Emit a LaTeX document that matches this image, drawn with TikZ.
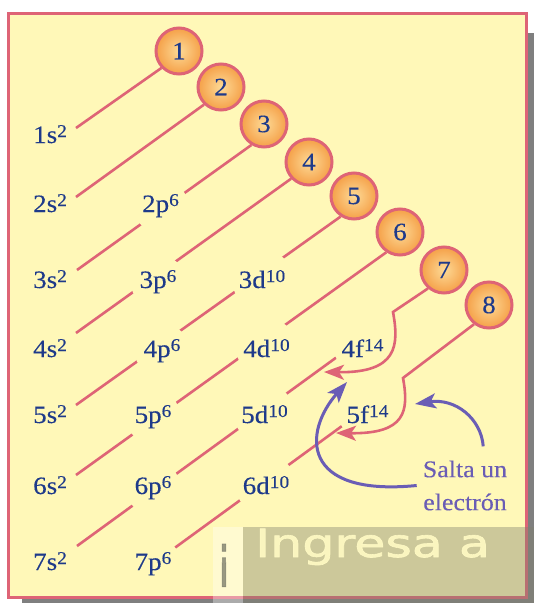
\documentclass[tikz,border=0pt]{standalone}
\usepackage{fontspec}
\setmainfont{Liberation Serif}[FakeStretch=1.08, FakeBold=0.25]
\newfontfamily\stampfont{DejaVu Sans}[FakeBold=1.5]
\usetikzlibrary{arrows.meta,backgrounds}

\definecolor{paper}{RGB}{255,248,184}
\definecolor{rim}{RGB}{222,100,118}
\definecolor{ink}{RGB}{30,58,138}
\definecolor{orbin}{RGB}{253,218,150}
\definecolor{orbout}{RGB}{245,160,72}
\definecolor{hintblue}{RGB}{106,93,181}
\definecolor{dropgray}{RGB}{127,127,127}
\definecolor{stampgray}{RGB}{128,128,110}
\definecolor{stamplight}{RGB}{255,250,196}

\newcommand\occ[1]{\raisebox{6pt}{\fontsize{18}{18}\selectfont#1}}

\begin{document}
\begin{tikzpicture}[x=1pt, y=-1pt,
    shell/.style={circle, minimum size=46pt, inner sep=0pt, draw=rim, line width=3pt, inner color=orbin, outer color=orbout, text=ink, font=\fontsize{25}{25}\selectfont},
    slabel/.style={anchor=base west, inner sep=0pt, text=ink, font=\fontsize{25}{28}\selectfont},
    sublabel/.style={circle, anchor=base, inner sep=4pt, fill=paper, text=ink, font=\fontsize{25}{28}\selectfont},
    notetext/.style={align=center, text=hintblue, inner xsep=6pt, inner ysep=14pt, font=\fontsize{24}{33}\selectfont},
    stamp/.style={anchor=base west, inner sep=0pt, font=\stampfont\fontsize{39}{39}\selectfont},
    diag/.style={draw=rim, line width=2.6pt},
    jump/.style={diag, -{Stealth[length=20pt, width=15pt, inset=5pt]}},
    hintarrow/.style={draw=hintblue, line width=3pt, -{Stealth[length=21pt, width=15pt, inset=5pt]}}
]
\useasboundingbox (0,0) rectangle (534,603);
% card
\begin{scope}[on background layer]
  \fill[dropgray] (22,33) rectangle (534,603);
  \draw[rim, line width=2.5pt, fill=paper] (8.5,13.5) rectangle (526.5,597.5);
\end{scope}
% shells
\foreach \n/\x/\y in {1/179/51, 2/221/87, 3/264/124, 4/309/162, 5/354/196, 6/400/232, 7/444/270, 8/489/305}
  \node[shell] (c\n) at (\x,\y) {\n};
% sublevels
\foreach \n/\y in {1/143, 2/212, 3/288, 4/357, 5/423, 6/494, 7/570}
  \node[slabel] (s\n) at (33,\y) {\n s\occ{2}};
\foreach \n/\x/\y in {2/160.5/212, 3/158/288, 4/162/357, 5/153/423, 6/153/494, 7/153/570}
  \node[sublabel] (p\n) at (\x,\y) {\n p\occ{6}};
\foreach \n/\x/\y in {3/262/288, 4/266.5/357, 5/264.5/423, 6/266/494}
  \node[sublabel] (d\n) at (\x,\y) {\n d\occ{10}};
\node[sublabel] (f4) at (362.5,357) {4f\occ{14}};
\node[sublabel] (f5) at (367.5,423) {5f\occ{14}};
% diagonals
\begin{scope}[on background layer]
  \foreach \n/\a/\u/\v in {1/224/76/128, 2/226/76/197, 3/239/77/270, 4/223/76/333, 5/237/76/405, 6/236/76/475} {
    \coordinate (e\n) at (\u,\v);
    \draw[diag] (c\n.\a) -- (e\n);
  }
  \coordinate (e7) at (77,546);
  \draw[diag] (f4.200) -- (e7);
  \draw[diag] (f5.205) -- (p7);
\end{scope}
% jumps into f
\coordinate (k7) at (393,312);
\coordinate (a7) at (324,372);
\draw[jump] (c7.229) -- (k7) .. controls (399,345) and (398,373) .. (a7);
\coordinate (k8) at (403,378);
\coordinate (a8) at (336,433);
\draw[jump] (c8.232) -- (k8) .. controls (409,411) and (406,434) .. (a8);
% note
\node[notetext] (note) at (465,485.5) {Salta un\\electrón};
\coordinate (h1) at (415,404);
\coordinate (h2) at (347,382);
\draw[hintarrow] (note.65) .. controls (481,418) and (455,398) .. (h1);
\draw[hintarrow] (note.west) .. controls (300,497) and (303,432) .. (h2);
% watermark
\fill[stampgray, opacity=0.4] (243,527) rectangle (534,603);
\fill[white, opacity=0.35] (213,527) rectangle (243,603);
\node[stamp, text=stamplight, opacity=0.9] (wm) at (255,557) {\scalebox{1.3}[1]{Ingresa a}};
\node[stamp, anchor=base, text=stampgray, opacity=0.8] (wmi) at (224,576) {\scalebox{1}[1.5]{¡}};
\end{tikzpicture}
\end{document}
